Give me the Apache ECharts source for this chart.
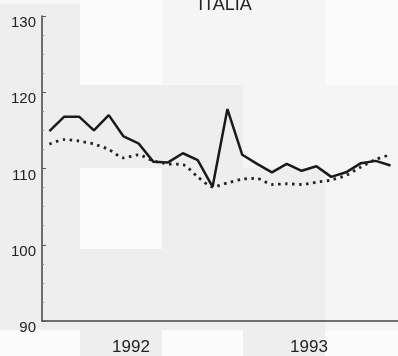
<!DOCTYPE html>
<html>
<head>
<meta charset="utf-8">
<style>html,body{margin:0;padding:0;background:#f7f7f7}#c{width:398px;height:356px}</style>
<script src="https://cdn.jsdelivr.net/npm/echarts@6/dist/echarts.min.js"></script>
</head>
<body>
<div id="c"></div>
<script>
var months = ['1992-01','1992-02','1992-03','1992-04','1992-05','1992-06','1992-07','1992-08','1992-09','1992-10','1992-11','1992-12',
              '1993-01','1993-02','1993-03','1993-04','1993-05','1993-06','1993-07','1993-08','1993-09','1993-10','1993-11','1993-12'];
var years = ['1992','1993'];
var solidSeries = [114.9,116.8,116.8,115.0,117.0,114.2,113.3,110.9,110.8,112.0,111.1,107.6,
                   117.8,111.8,110.6,109.5,110.6,109.7,110.3,108.9,109.5,110.7,111.0,110.4];
var dottedSeries = [113.2,113.8,113.6,113.2,112.5,111.4,111.8,111.0,110.6,110.5,108.9,107.6,
                    108.1,108.6,108.7,107.9,108.0,107.9,108.2,108.5,109.1,110.2,111.2,111.8];
var yTicks = [90,100,110,120,130];
var title = 'ITALIA';

var G = '#eeeeee', L = '#f5f5f5', W = '#fbfbfb';
var xs = [0,80,162,243,325,398], ys = [0,85,168,249,330,356];
var blocks = [
  [G,W,L,L,W],
  [G,G,G,L,L],
  [G,W,G,G,L],
  [G,G,G,G,L],
  [W,G,W,G,W]
];
var rects = [];
for (var r = 0; r < blocks.length; r++) {
  for (var c = 0; c < blocks[r].length; c++) {
    var y0 = (r===0&&c===0)?4:ys[r];
    rects.push({type:'rect', silent:true, z:-10,
      shape:{x:xs[c], y:y0, width:xs[c+1]-xs[c], height:ys[r+1]-y0},
      style:{fill:blocks[r][c]}});
  }
}

var chart = echarts.init(document.getElementById('c'));
chart.setOption({
  animation:false,
  backgroundColor:'#f7f7f7',
  graphic: rects,
  title:{text:title, left:220, textAlign:'center', top:-9,
    textStyle:{fontSize:18, fontWeight:'normal', color:'#222', fontFamily:'Liberation Sans Narrow, Arial'}},
  grid:{left:42, right:0, top:16, bottom:30},
  xAxis:[{
    type:'category', data:months, boundaryGap:true,
    axisLine:{lineStyle:{color:'#444', width:1.5}},
    axisTick:{inside:true, length:3, lineStyle:{color:'#555'}},
    axisLabel:{show:false},
    splitLine:{show:false}
  },{
    type:'category', data:years, boundaryGap:true, position:'bottom',
    axisLine:{show:false}, axisTick:{show:false},
    axisLabel:{margin:18, fontSize:17, color:'#222', fontFamily:'Liberation Sans Narrow, Arial'}
  }],
  yAxis:{
    type:'value', min:yTicks[0], max:yTicks[yTicks.length-1], interval:10,
    axisLine:{show:true, lineStyle:{color:'#444', width:1.5}},
    axisTick:{show:true, inside:true, length:4, lineStyle:{color:'#555'}},
    minorTick:{show:true, splitNumber:4, length:2, lineStyle:{color:'#888'}},
    axisLabel:{fontSize:15, color:'#222', margin:6, verticalAlign:'top', lineHeight:14, fontFamily:'Liberation Sans Narrow, Arial'},
    splitLine:{show:false}
  },
  series:[{
    type:'line', data:solidSeries, xAxisIndex:0, showSymbol:false,
    lineStyle:{color:'#1a1a1a', width:2.5}
  },{
    type:'line', data:dottedSeries, xAxisIndex:0, showSymbol:false, smooth:0.25,
    lineStyle:{color:'#222', width:2.8, type:[2.5,4.5]}
  }]
});
</script>
</body>
</html>
